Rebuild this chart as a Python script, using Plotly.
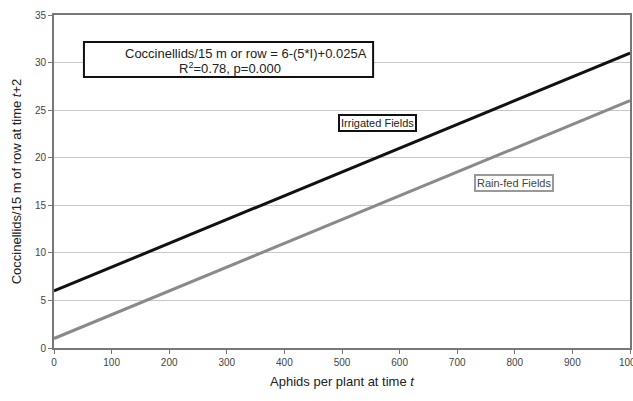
import plotly.graph_objects as go

aphids = [0, 1000]
irrigated = [6, 31]
rainfed = [1, 26]
x_ticks = [0, 100, 200, 300, 400, 500, 600, 700, 800, 900, 1000]
y_ticks = [0, 5, 10, 15, 20, 25, 30, 35]

FONT = "Liberation Sans, Arial, sans-serif"

fig = go.Figure()
fig.add_trace(go.Scatter(x=aphids, y=irrigated, mode="lines",
                         line=dict(color="#111111", width=3), showlegend=False))
fig.add_trace(go.Scatter(x=aphids, y=rainfed, mode="lines",
                         line=dict(color="#8a8a8a", width=3), showlegend=False))

# equation box
fig.add_shape(type="rect", xref="x", yref="y", x0=52, x1=554, y0=28.48, y1=32.16,
              line=dict(color="#111", width=2), fillcolor="white", layer="above")
fig.add_annotation(x=333, y=31.0, xref="x", yref="y",
                   text="Coccinellids/15 m or row = 6-(5*I)+0.025A",
                   showarrow=False, font=dict(family=FONT, size=13, color="#222"))
fig.add_annotation(x=305.6, y=29.43, xref="x", yref="y",
                   text="R<sup>2</sup>=0.78, p=0.000",
                   showarrow=False, font=dict(family=FONT, size=13, color="#222"))

fig.add_annotation(x=561, y=23.6, xref="x", yref="y", text="Irrigated Fields",
                   showarrow=False, font=dict(family=FONT, size=11, color="#222"),
                   bordercolor="#111", borderwidth=2, borderpad=1, bgcolor="white")
fig.add_annotation(x=799, y=17.3, xref="x", yref="y", text="Rain-fed Fields",
                   showarrow=False, font=dict(family=FONT, size=11, color="#444"),
                   bordercolor="#999", borderwidth=2, borderpad=1, bgcolor="white")

fig.update_layout(
    width=633, height=401,
    margin=dict(l=54, r=3, t=15, b=53),
    paper_bgcolor="white", plot_bgcolor="white",
    font=dict(family=FONT, color="#333"),
    xaxis=dict(range=[0, 1000], tickvals=x_ticks, ticks="outside", ticklen=4,
               tickcolor="#777", showline=True, linecolor="#777", linewidth=2,
               mirror=True, showgrid=False, zeroline=False, automargin=False,
               ticklabeloverflow="allow",
               tickfont=dict(size=10, color="#444"),
               title=dict(text="Aphids per plant at time <i>t</i>",
                          font=dict(size=13, color="#222"), standoff=10)),
    yaxis=dict(range=[0, 35], tickvals=y_ticks, ticks="outside", ticklen=4,
               tickcolor="#777", showline=True, linecolor="#777", linewidth=2,
               mirror=True, showgrid=True, gridcolor="#c8c8c8", gridwidth=1,
               zeroline=False, automargin=False, tickfont=dict(size=10, color="#444"),
               title=dict(text="Coccinellids/15 m of row at time <i>t</i>+2",
                          font=dict(size=13, color="#222"), standoff=10)),
)

fig.write_html("out.html", config={"displayModeBar": False},
               post_script="document.body.style.margin='0';document.body.style.overflow='hidden';")
